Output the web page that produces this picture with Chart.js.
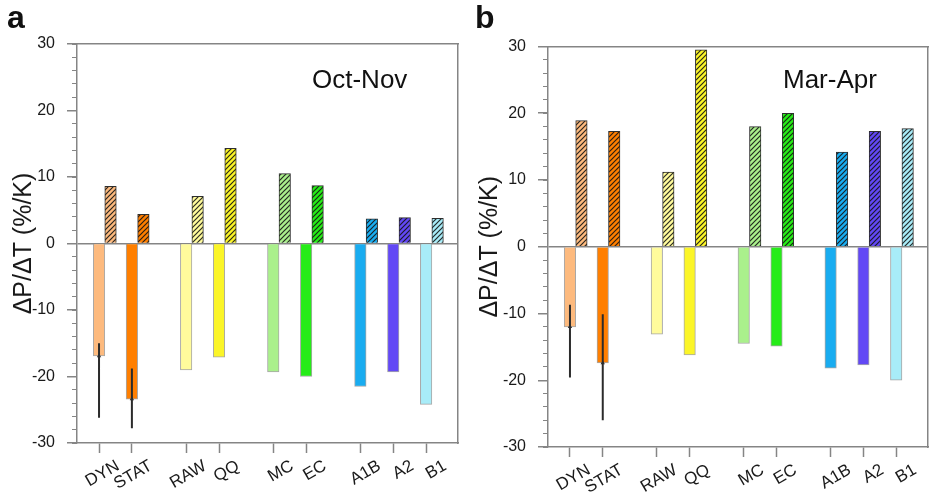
<!DOCTYPE html>
<html>
<head>
<meta charset="utf-8">
<script src="https://cdn.jsdelivr.net/npm/chart.js@4/dist/chart.umd.min.js"></script>
<style>
  html, body { margin: 0; padding: 0; background: #fff; }
  #wrap { position: relative; width: 932px; height: 496px; overflow: hidden;
          font-family: "Liberation Sans", Arial, sans-serif; color: #111; }
  #wrap canvas { position: absolute; top: 0; }
  .tag { position: absolute; font-weight: bold; font-size: 32px; line-height: 1; }
  .season { position: absolute; font-size: 26px; line-height: 1; white-space: nowrap; }
</style>
</head>
<body>
<div id="wrap">
  <canvas id="panelA" width="466" height="496" style="left:0"></canvas>
  <canvas id="panelB" width="466" height="496" style="left:466px"></canvas>
  <div class="tag" style="left:7px;top:1px">a</div>
  <div class="tag" style="left:475px;top:1px">b</div>
  <div class="season" style="left:312px;top:66px">Oct-Nov</div>
  <div class="season" style="left:783px;top:66px">Mar-Apr</div>
</div>
<script>
// Categories and the block each one belongs to (blocks are drawn with a wider gap between them)
const categories = ['DYN', 'STAT', 'RAW', 'QQ', 'MC', 'EC', 'A1B', 'A2', 'B1'];
const blockOf    = [0, 0, 1, 1, 2, 2, 3, 3, 3];
const barColors  = ['#FDBA7E', '#FF7F00', '#FFFB9C', '#FBF528', '#AAF08C',
                    '#26EC18', '#19ACF0', '#6248F5', '#A8ECF8'];

// Oct-Nov: solid (negative) and hatched (positive) bars, %/K
const octNovSolid   = [-16.9, -23.4, -19.0, -17.1, -19.3, -20.0, -21.5, -19.3, -24.2];
const octNovHatched = [8.6, 4.4, 7.1, 14.3, 10.5, 8.7, 3.7, 3.9, 3.8];
// spread lines for DYN and STAT
const octNovSpreadLow  = [-26.2, -27.8];
const octNovSpreadHigh = [-15.0, -18.8];

// Mar-Apr
const marAprSolid   = [-12.0, -17.4, -13.1, -16.2, -14.5, -14.9, -18.2, -17.7, -20.0];
const marAprHatched = [18.9, 17.3, 11.2, 29.5, 18.0, 20.0, 14.2, 17.3, 17.7];
const marAprSpreadLow  = [-19.6, -26.0];
const marAprSpreadHigh = [-8.7, -10.1];

const yTickValues = [-30, -20, -10, 0, 10, 20, 30];

// axis geometry (in category units)
const BLOCK_GAP = 0.65;
const HATCH_SHIFT = 0.35;
const X_MIN = -0.67, X_MAX = 10.92;

const AXIS = '#858585';
const TEXT = '#1a1a1a';
const FONT = '"Liberation Sans", Arial, sans-serif';

const positions = categories.map((c, i) => i + blockOf[i] * BLOCK_GAP);

function hatch(color) {
  const s = 5;
  const c = document.createElement('canvas');
  c.width = s; c.height = s;
  const g = c.getContext('2d');
  g.fillStyle = color;
  g.fillRect(0, 0, s, s);
  g.strokeStyle = 'rgba(20,20,20,0.9)';
  g.lineWidth = 1.2;
  g.beginPath();
  g.moveTo(-1, s + 1); g.lineTo(s + 1, -1);
  g.moveTo(-1, 1); g.lineTo(1, -1);
  g.moveTo(s - 1, s + 1); g.lineTo(s + 1, s - 1);
  g.stroke();
  return g.createPattern(c, 'repeat');
}

function spreadPoints(low, high) {
  const pts = [];
  low.forEach((lo, i) => {
    pts.push({ x: positions[i], y: lo }, { x: positions[i], y: high[i] }, { x: positions[i], y: null });
  });
  return pts;
}

function makePanel(id, solid, hatched, spreadLow, spreadHigh, geo) {
  const ctx = document.getElementById(id).getContext('2d');
  return new Chart(ctx, {
    type: 'bar',
    data: {
      datasets: [
        {
          type: 'line',
          data: spreadPoints(spreadLow, spreadHigh),
          borderColor: '#2b2b2b',
          borderWidth: 2,
          pointRadius: 0,
          spanGaps: false,
          order: -1
        },
        {
          // small markers where each spread line meets its bar end
          type: 'line',
          data: spreadLow.map((lo, i) => ({ x: positions[i], y: solid[i] })),
          showLine: false,
          pointStyle: 'triangle',
          pointRadius: 2.5,
          pointBorderWidth: 0,
          pointBackgroundColor: '#2b2b2b',
          order: -2
        },
        {
          data: solid.map((v, i) => ({ x: positions[i], y: v })),
          backgroundColor: barColors,
          borderColor: 'rgba(60,60,60,0.45)',
          borderWidth: 1
        },
        {
          data: hatched.map((v, i) => ({ x: positions[i] + HATCH_SHIFT, y: v })),
          backgroundColor: barColors.map(hatch),
          borderColor: '#2e2e2e',
          borderWidth: 1
        }
      ]
    },
    options: {
      responsive: false,
      animation: false,
      events: [],
      grouped: false,
      barPercentage: 1,
      categoryPercentage: 1,
      layout: { padding: { top: geo.top, right: geo.right, bottom: 0, left: 0 } },
      plugins: { legend: { display: false }, tooltip: { enabled: false } },
      scales: {
        x: {
          type: 'linear', position: 'bottom', min: X_MIN, max: X_MAX, offset: false,
          afterBuildTicks: s => { s.ticks = positions.map(v => ({ value: v })); },
          afterFit: s => { s.height = geo.xAxisHeight; },
          grid: { offset: false, drawOnChartArea: false, tickLength: 10, tickColor: AXIS, tickWidth: 1.5 },
          border: { color: AXIS, width: 1.5 },
          ticks: {
            autoSkip: false, minRotation: 30, maxRotation: 30,
            labelOffset: 19, padding: 3,
            font: { family: FONT, size: 17 }, color: TEXT,
            callback: (v, i) => categories[i]
          }
        },
        xTop: {
          type: 'linear', position: 'top', min: X_MIN, max: X_MAX, offset: false,
          afterFit: s => { s.height = 0; },
          ticks: { display: false },
          grid: { display: false },
          border: { color: AXIS, width: 1.5 }
        },
        y: {
          type: 'linear', position: 'left', weight: 1, min: -30, max: 30,
          afterBuildTicks: s => { s.ticks = yTickValues.map(v => ({ value: v })); },
          afterFit: s => { s.width = geo.yAxisWidth; },
          ticks: { padding: 12, font: { family: FONT, size: 16 }, color: TEXT },
          grid: {
            drawOnChartArea: true, tickLength: 10, tickWidth: 1.5, tickColor: AXIS, lineWidth: 1.5,
            color: c => (c.tick && c.tick.value === 0) ? AXIS : 'rgba(0,0,0,0)'
          },
          border: { color: AXIS, width: 1.5 },
          title: {
            display: true, text: 'ΔP/ΔT (%/K)', color: TEXT,
            font: { family: FONT, size: 25 }, padding: { top: 9, bottom: 0 }
          }
        },
        yMinor: {
          type: 'linear', position: 'left', weight: 0, min: -30, max: 30,
          afterFit: s => { s.width = 0; },
          ticks: { display: false, stepSize: 2 },
          grid: { drawOnChartArea: false, tickLength: 5, tickWidth: 1, tickColor: AXIS },
          border: { display: false }
        },
        yRight: {
          type: 'linear', position: 'right', min: -30, max: 30,
          afterFit: s => { s.width = 0; },
          ticks: { display: false },
          grid: { display: false },
          border: { color: AXIS, width: 1.5 }
        }
      }
    }
  });
}

makePanel('panelA', octNovSolid, octNovHatched, octNovSpreadLow, octNovSpreadHigh,
          { top: 44, right: 8, xAxisHeight: 53, yAxisWidth: 77 });
makePanel('panelB', marAprSolid, marAprHatched, marAprSpreadLow, marAprSpreadHigh,
          { top: 46.5, right: 4, xAxisHeight: 49, yAxisWidth: 82 });
</script>
</body>
</html>
